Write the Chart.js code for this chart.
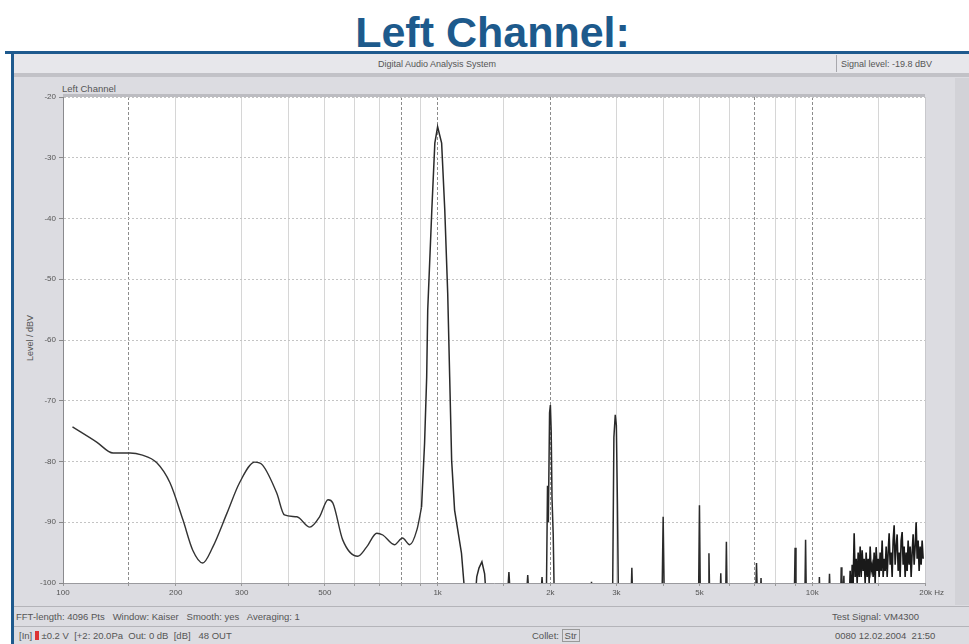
<!DOCTYPE html>
<html>
<head>
<meta charset="utf-8">
<script src="https://cdn.jsdelivr.net/npm/chart.js@4.4.1/dist/chart.umd.min.js"></script>
<style>
  body { margin: 0; width: 969px; height: 644px; position: relative; overflow: hidden; background: #fff;
         font-family: "Liberation Sans", Arial, sans-serif; }
  .abs { position: absolute; }
  #title { left: 0; top: 10px; width: 985px; text-align: center; font: bold 43px "Liberation Sans", Arial, sans-serif;
           color: #1d5a8c; line-height: 44px; }
  .small { font-size: 9.5px; color: #555; white-space: pre; }
  #myChart { position: absolute; left: 0; top: 0; z-index: 2; }
</style>
</head>
<body>
<div id="title" class="abs">Left Channel:</div>

<!-- instrument panel -->
<div class="abs" style="left:14px;top:53px;width:955px;height:591px;background:#dcdce1;"></div>
<div class="abs" style="left:5px;top:51px;width:964px;height:3px;background:#1e5a8e;"></div>
<div class="abs" style="left:11px;top:51px;width:3px;height:593px;background:#1e5a8e;"></div>
<div class="abs" style="left:14px;top:54px;width:955px;height:19px;background:#e7e7eb;border-bottom:4px solid #c2c2c7;"></div>
<div class="abs" style="left:836px;top:55px;width:1px;height:17px;background:#a8a8ad;"></div>
<div class="abs small" style="left:300px;top:59px;width:274px;text-align:center;font-size:9px;">Digital Audio Analysis System</div>
<div class="abs small" style="left:841px;top:59px;font-size:9px;">Signal level: -19.8 dBV</div>
<div class="abs" style="left:955px;top:78px;width:14px;height:527px;background:#d2d2d7;"></div>
<div class="abs small" style="left:62px;top:83px;">Left Channel</div>
<div class="abs small" style="left:-2px;top:333px;width:64px;text-align:center;transform:rotate(-90deg);font-size:9px;">Level / dBV</div>
<div class="abs small" style="left:898px;top:110px;width:30px;text-align:center;transform:rotate(90deg);font-size:8px;border:1px solid #999;line-height:9px;">[dB]</div>

<!-- footer -->
<div class="abs" style="left:14px;top:606px;width:955px;height:1px;background:#b4b4b9;"></div>
<div class="abs small" style="left:16px;top:611px;">FFT-length: 4096 Pts   Window: Kaiser   Smooth: yes   Averaging: 1</div>
<div class="abs small" style="left:832px;top:611px;">Test Signal: VM4300</div>
<div class="abs" style="left:14px;top:626px;width:955px;height:1px;background:#b4b4b9;"></div>
<div class="abs small" style="left:19px;top:630px;">[In] <span style="display:inline-block;width:4px;height:9px;background:#d33;vertical-align:-1px;"></span> ±0.2 V  [+2: 20.0Pa  Out: 0 dB  [dB]   48 OUT</div>
<div class="abs small" style="left:532px;top:630px;">Collet: <span style="border:1px solid #999;padding:0 2px;">Str</span></div>
<div class="abs small" style="left:835px;top:630px;">0080 12.02.2004  21:50</div>

<canvas id="myChart" width="969" height="644"></canvas>

<script>
// smooth low-frequency part of the spectrum (Hz / dBV)
const smoothFreq = [106, 123, 136, 151, 162, 178, 193, 209, 222, 236, 251, 274, 296, 325, 341, 372, 390, 421,
  456, 484, 510, 525, 558, 612, 646, 688, 714, 767, 806, 842, 880, 906];
const smoothLevel = [-74.3, -76.8, -78.6, -78.6, -78.9, -80.2, -83.5, -89.6, -94.6, -96.7, -94.1, -88.5, -83.5,
  -80.1, -80.6, -85.2, -88.8, -89.1, -90.8, -89.1, -86.3, -86.8, -92.9, -95.6, -94.1, -91.8, -92.1, -93.7,
  -92.6, -93.7, -91.3, -87.5];

// 1 kHz tone, harmonics and single spikes (Hz / dBV)
const harmFreq = [906, 923, 935, 941, 965, 983, 1000, 1025, 1045, 1064, 1077, 1090, 1110, 1158, 1190,
  1255, 1272, 1290, 1313, 1335, 1354,
  1530, 1550, 1570, 1720, 1740, 1760, 1880, 1900, 1920,
  1950, 1965, 1975, 1990, 2000, 2010, 2020, 2035, 2050,
  2560, 2575, 2590,
  2930, 2955, 2980, 3000, 3020, 3040,
  3280, 3300, 3320, 3970, 4000, 4030, 4970, 5000, 5030,
  5270, 5300, 5330, 5670, 5700, 5730, 5870, 5900, 5930,
  7050, 7100, 7150, 7250, 7300, 7350,
  8950, 9000, 9050, 9550, 9600, 9650,
  10400, 10450, 10500, 11050, 11120, 11200, 11900, 11950, 12000, 12150, 12200, 12400];
const harmLevel = [-87.5, -77.0, -66.1, -55.1, -38.6, -27.6, -24.9, -27.6, -38.6, -52.3, -66.1, -79.8, -88.0, -95.1, -104,
  -104, -99, -97.5, -96.5, -98.5, -104,
  -104, -98.2, -104, -104, -98.7, -104, -104, -99, -104,
  -104, -84, -90, -72, -70.7, -75, -86, -92, -104,
  -104, -99.8, -104,
  -104, -76, -72.3, -74, -87, -104,
  -104, -97.5, -104, -104, -89.1, -104, -104, -87.2, -104,
  -104, -95.1, -104, -104, -98.4, -104, -104, -93.2, -104,
  -104, -96.7, -104, -104, -99.2, -104,
  -104, -94.2, -104, -104, -92.9, -104,
  -104, -99, -104, -104, -98.5, -104, -104, -97.4, -104, -98.8, -104, -104];

// dense noise above 12.5 kHz (Hz / dBV)
const noiseFreq = [12549, 12626, 12704, 12782, 12861, 12940, 13020, 13100, 13181, 13262, 13344, 13426, 13509,
  13592, 13676, 13760, 13845, 13930, 14016, 14102, 14189, 14277, 14365, 14453, 14542, 14632, 14722, 14813,
  14904, 14996, 15088, 15181, 15275, 15369, 15464, 15559, 15655, 15752, 15849, 15946, 16045, 16143, 16243,
  16343, 16444, 16545, 16647, 16750, 16853, 16957, 17061, 17166, 17272, 17379, 17486, 17594, 17702, 17811,
  17921, 18031, 18143, 18254, 18367, 18480, 18594, 18709, 18824, 18940, 19057, 19174, 19292, 19411, 19531,
  19651, 19772];
const noiseLevel = [-104, -98, -104, -97, -100, -91.8, -99, -96, -100, -95, -99, -94, -99,
  -94.6, -98, -96, -100, -95, -99, -96, -100, -94, -98, -97, -99, -95, -100, -94.1,
  -98, -96, -99, -95, -98, -93, -99, -96, -98, -94, -99, -95, -91.8, -97, -95,
  -99, -93, -90.5, -97, -94, -92, -98, -95, -99, -93, -91.6, -97, -94, -99, -95,
  -98, -93, -97, -94, -99, -95, -92, -97, -94, -90, -96, -93, -98, -94, -97,
  -93, -96];

// x axis grid and labels
const gridFreq = [100, 150, 200, 300, 400, 500, 600, 700, 800, 900, 1000, 1500, 2000, 3000, 4000, 5000,
  6000, 7000, 8000, 9000, 10000, 15000, 20000];
const darkGrid = [150, 800, 1000, 2000, 7000, 10000];
const xLabels = { 100: "100", 200: "200", 300: "300", 500: "500", 1000: "1k", 2000: "2k", 3000: "3k",
  5000: "5k", 10000: "10k", 20000: "      20k Hz" };

const toPoints = (xs, ys) => xs.map((x, i) => ({ x: x, y: ys[i] }));

// white plot background and the grey strip on top of it
const plotFrame = {
  id: "plotFrame",
  beforeDraw(chart) {
    const { ctx, chartArea: a } = chart;
    ctx.save();
    ctx.fillStyle = "#ffffff";
    ctx.fillRect(a.left, a.top, a.right - a.left, a.bottom - a.top);
    ctx.restore();
  },
  afterDraw(chart) {
    const { ctx, chartArea: a } = chart;
    ctx.save();
    ctx.fillStyle = "#bcbcc1";
    ctx.fillRect(a.left, a.top - 3, a.right - a.left, 3);
    ctx.strokeStyle = "#c8c8cc";
    ctx.lineWidth = 1;
    ctx.beginPath();
    ctx.moveTo(a.right + 0.5, a.top);
    ctx.lineTo(a.right + 0.5, a.bottom);
    ctx.stroke();
    ctx.restore();
  }
};

const tickFont = { family: "'Liberation Sans', Arial, sans-serif", size: 8 };

new Chart(document.getElementById("myChart").getContext("2d"), {
  type: "scatter",
  data: {
    datasets: [
      {
        data: toPoints(smoothFreq, smoothLevel),
        showLine: true,
        borderColor: "#333333",
        borderWidth: 1.4,
        pointRadius: 0,
        cubicInterpolationMode: "monotone",
      },
      {
        data: toPoints(harmFreq, harmLevel),
        showLine: true,
        borderColor: "#2a2a2a",
        borderWidth: 1.5,
        pointRadius: 0,
        tension: 0,
      },
      {
        data: toPoints(noiseFreq, noiseLevel),
        showLine: true,
        borderColor: "#1a1a1a",
        borderWidth: 1.6,
        pointRadius: 0,
        tension: 0,
      },
    ],
  },
  options: {
    responsive: false,
    animation: false,
    devicePixelRatio: 1,
    layout: { padding: { left: 0, top: 97, right: 44, bottom: 43 } },
    plugins: { legend: { display: false }, tooltip: { enabled: false } },
    scales: {
      x: {
        type: "logarithmic",
        min: 100,
        max: 20000,
        afterFit: (s) => { s.height = 18; },
        afterBuildTicks: (s) => { s.ticks = gridFreq.map((v) => ({ value: v })); },
        ticks: {
          autoSkip: false,
          maxRotation: 0,
          padding: 2,
          font: tickFont,
          color: "#555",
          callback: (v) => xLabels[v] || "",
        },
        grid: {
          color: (c) => (c.tick && darkGrid.includes(c.tick.value) ? "#8c8c8c" : "#d6d6d6"),
          tickLength: 3,
          tickColor: "#999",
        },
        border: {
          color: "#9a9a9e",
          dash: (c) => (c.tick && darkGrid.includes(c.tick.value) ? [3, 2] : []),
        },
      },
      y: {
        min: -100,
        max: -20,
        afterFit: (s) => { s.width = 63; },
        ticks: { stepSize: 10, font: tickFont, color: "#555", padding: 3 },
        grid: { color: "#c4c4c4", tickLength: 4, tickColor: "#888" },
        border: { color: "#8a8a8e", dash: [2, 2] },
      },
    },
  },
  plugins: [plotFrame],
});
</script>
</body>
</html>
